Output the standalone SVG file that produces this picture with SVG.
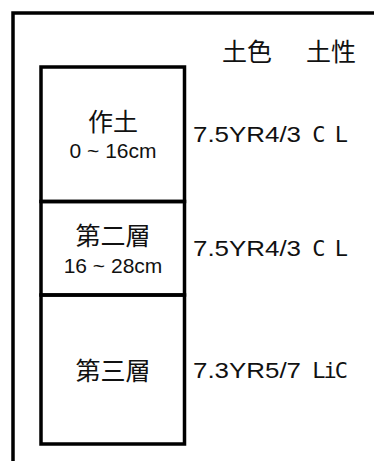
<svg xmlns="http://www.w3.org/2000/svg" width="374" height="461" viewBox="0 0 374 461">
<style>
.ln{stroke:#000;stroke-width:3.5;fill:none}
.cjk{font-family:"Noto Sans CJK JP","Noto Sans CJK SC",sans-serif;font-size:25px;fill:#111}
.dep{font-family:"Liberation Sans",Arial,sans-serif;font-size:21px;fill:#111}
.val{font-family:"Liberation Sans",Arial,sans-serif;font-size:22px;fill:#111}
.mono{font-family:"DejaVu Sans Mono","Liberation Mono",monospace;font-size:22px;letter-spacing:-2px}
</style>
<rect width="374" height="461" fill="#fff"/>
<g id="frame">
<path class="ln" d="M13 461V13H374"/>
</g>
<g id="header">
<text class="cjk" x="222" y="61">土色<tspan x="306">土性</tspan></text>
</g>
<g id="layer1">
<rect class="ln" x="41" y="67" width="143.5" height="134.5"/>
<text class="cjk" x="113" y="131" text-anchor="middle">作土</text>
<text class="dep" x="113" y="158" text-anchor="middle">0 ~ 16cm</text>
<text class="val" x="193" y="142"><tspan textLength="108" lengthAdjust="spacingAndGlyphs">7.5YR4/3</tspan><tspan class="mono"> C L</tspan></text>
</g>
<g id="layer2">
<rect class="ln" x="41" y="201.5" width="143.5" height="93.5"/>
<text class="cjk" x="113" y="245" text-anchor="middle">第二層</text>
<text class="dep" x="113" y="273" text-anchor="middle">16 ~ 28cm</text>
<text class="val" x="193" y="256"><tspan textLength="108" lengthAdjust="spacingAndGlyphs">7.5YR4/3</tspan><tspan class="mono"> C L</tspan></text>
</g>
<g id="layer3">
<rect class="ln" x="41" y="295" width="143.5" height="149"/>
<text class="cjk" x="113" y="380" text-anchor="middle">第三層</text>
<text class="val" x="193" y="378"><tspan textLength="108" lengthAdjust="spacingAndGlyphs">7.3YR5/7</tspan><tspan class="mono"> LiC</tspan></text>
</g>
<g id="connectors"/>
</svg>
